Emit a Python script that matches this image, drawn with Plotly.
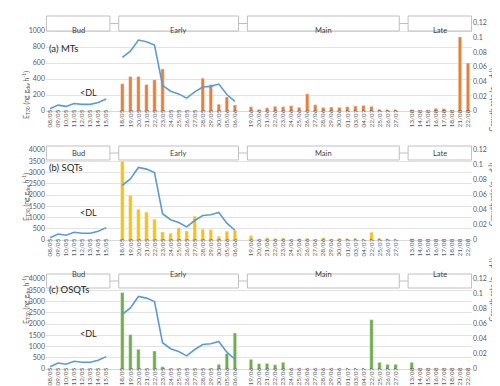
import plotly.graph_objects as go

# sampling dates; "" marks the blank slot between phases
dates = ["08/05", "09/05", "10/05", "11/05", "12/05", "13/05", "14/05", "15/05", "",
         "18/05", "19/05", "20/05", "21/05", "22/05", "23/05", "24/05", "25/05", "26/05",
         "27/05", "28/05", "29/05", "30/05", "05/06", "06/06", "",
         "19/06", "20/06", "21/06", "22/06", "23/06", "24/06", "25/06", "26/06", "27/06",
         "28/06", "29/06", "30/06", "01/07", "03/07", "04/07", "22/07", "25/07", "26/07", "27/07", "",
         "13/08", "14/08", "15/08", "16/08", "17/08", "18/08", "21/08", "22/08"]

# phases: name, first date, last date
phases = [("Bud", "08/05", "15/05"), ("Early", "18/05", "06/06"),
          ("Main", "19/06", "27/07"), ("Late", "13/08", "22/08")]

# emission rates E_T30 (ng g_dw h-1), None = below detection / no bar
mts = [None] * 8 + [None] + \
      [340, 430, 430, 330, 390, 525, 0, 0, 0, 0, 410, 330, 85, 175, 75] + [None] + \
      [53, 18, 40, 58, 53, 66, 45, 214, 78, 45, 49, 45, 53, 62, 70, 58, 20, 16, 16] + [None] + \
      [16, 0, 0, 33, 29, 0, 926, 600]
sqts = [None] * 8 + [None] + \
       [3500, 1990, 1360, 1240, 925, 360, 300, 540, 400, 1060, 480, 460, 165, 390, 430] + [None] + \
       [195, 30, 100, 60, 90, 0, 60, 75, 0, 100, 30, 75, 60, 75, 0, 345, 75, 45, 0] + [None] + \
       [60, 0, 0, 0, 0, 0, 0, 0]
osqts = [None] * 8 + [None] + \
        [3400, 1525, 875, 0, 800, 100, 0, 0, 0, 0, 0, 0, 207, 680, 1600] + [None] + \
        [430, 237, 250, 190, 295, 0, 0, 0, 0, 0, 0, 0, 0, 0, 0, 2190, 295, 207, 207] + [None] + \
        [295, 0, 0, 0, 0, 0, 0, 0]

# growth rate (g_dw d-1)
growth = [0.0031, 0.008, 0.0063, 0.0103, 0.009, 0.009, 0.0117, 0.0165, None,
          0.073, 0.0815, 0.0967, 0.0945, 0.09, 0.035, 0.027, 0.0233, 0.0175,
          0.026, 0.0327, 0.0336, 0.0367, 0.0225, 0.013] + [None] * 29

panels = [("(a) MTs", mts, "#ED7D31", 1100, 200),
          ("(b) SQTs", sqts, "#FFC000", 4000, 500),
          ("(c) OSQTs", osqts, "#70AD47", 4000, 500)]

W, H = 500, 386
# plot area in pixels (top, bottom) and header box rows
rows_px = [(15, 103), (142, 232), (271, 361)]
head_px = [(8, 23), (138, 152), (266, 280)]
X0, X1 = 38, 464

def fx(p):
    return p / W

def fy(p):
    return 1 - p / H

xs = list(range(len(dates)))
tick_x = [i for i, d in enumerate(dates) if d]
tick_t = [d for d in dates if d]
grey = "#595959"
fig = go.Figure()
layout = {}
shapes, annos = [], []

for k, (label, vals, col, ymax, ystep) in enumerate(panels):
    n = k + 1
    xa = "x" if n == 1 else f"x{n}"
    yl = "y" if n == 1 else f"y{2 * n - 1}"
    yr = f"y{2 * n}"
    fig.add_trace(go.Bar(x=xs, y=vals, marker_color=col, width=0.42,
                         xaxis=xa, yaxis=yl, showlegend=False))
    fig.add_trace(go.Scatter(x=xs, y=growth, mode="lines", line=dict(color="#5B9BD5", width=1.6),
                             connectgaps=False, xaxis=xa, yaxis=yr, showlegend=False))
    top, bot = rows_px[k]
    dom = [fy(bot), fy(top)]
    xkey = "xaxis" if n == 1 else f"xaxis{n}"
    ylkey = "yaxis" if n == 1 else f"yaxis{2 * n - 1}"
    yrkey = f"yaxis{2 * n}"
    layout[xkey] = dict(domain=[fx(X0), fx(X1)], anchor=yl, range=[-0.5, len(dates) - 0.5],
                        tickmode="array", tickvals=tick_x, ticktext=tick_t, tickangle=-90,
                        tickfont=dict(size=6.5, color=grey), ticks="", ticklabelstandoff=-5,
                        showline=True, linecolor="#d9d9d9",
                        showgrid=False, zeroline=False, fixedrange=True, automargin=False)
    layout[ylkey] = dict(domain=dom, anchor=xa, range=[0, ymax], dtick=ystep, tick0=0,
                         tickfont=dict(size=7, color=grey), showgrid=True, gridcolor="#e3e3e3",
                         gridwidth=0.8, zeroline=False, showline=False, automargin=False)
    layout[yrkey] = dict(domain=dom, anchor=xa, overlaying=yl, side="right", range=[0, 0.12],
                         dtick=0.02, tick0=0, tickfont=dict(size=7, color=grey), showgrid=False,
                         zeroline=False, showline=False, automargin=False)

    # header row: connecting line and phase boxes
    ht, hb = head_px[k]
    shapes.append(dict(type="line", xref="paper", yref="paper", x0=fx(X0), x1=fx(X1),
                       y0=fy((ht + hb) / 2), y1=fy((ht + hb) / 2),
                       line=dict(color="#bfbfbf", width=1), layer="above"))
    for name, d0, d1 in phases:
        i0, i1 = dates.index(d0), dates.index(d1)
        shapes.append(dict(type="rect", xref=xa, yref="paper", x0=i0 - 0.45, x1=i1 + 0.45,
                           y0=fy(hb), y1=fy(ht), fillcolor="white",
                           line=dict(color="#bfbfbf", width=1), layer="above"))
        annos.append(dict(xref=xa, yref="paper", x=(i0 + i1) / 2, y=fy((ht + hb) / 2),
                          text=name, showarrow=False, font=dict(size=7.5, color="#404040")))

    annos.append(dict(xref="paper", yref="paper", x=fx(39), y=fy(top + 18), xanchor="left",
                      text=label, showarrow=False, font=dict(size=9.5, color="#262626")))
    annos.append(dict(xref="paper", yref="paper", x=fx(70), y=fy(top + 62),
                      text="&lt;DL", showarrow=False, font=dict(size=9, color="#262626")))
    annos.append(dict(xref="paper", yref="paper", x=fx(11), y=fy((top + bot) / 2 + 2),
                      text="E<sub>T30</sub> (ng g<sub>dw</sub> h<sup>-1</sup>)", textangle=-90,
                      showarrow=False, font=dict(size=7, color=grey)))
    annos.append(dict(xref="paper", yref="paper", x=fx(491), y=fy((top + bot) / 2),
                      text="Growth rate (g<sub>dw</sub> d<sup>-1</sup>)", textangle=-90,
                      showarrow=False, font=dict(size=7, color=grey)))

fig.update_layout(**layout)
fig.update_layout(width=W, height=H, margin=dict(l=0, r=0, t=0, b=0), plot_bgcolor="white",
                  paper_bgcolor="white", font=dict(family="Lato, Open Sans, sans-serif"),
                  shapes=shapes, annotations=annos, showlegend=False)

fig.write_html("out.html")
